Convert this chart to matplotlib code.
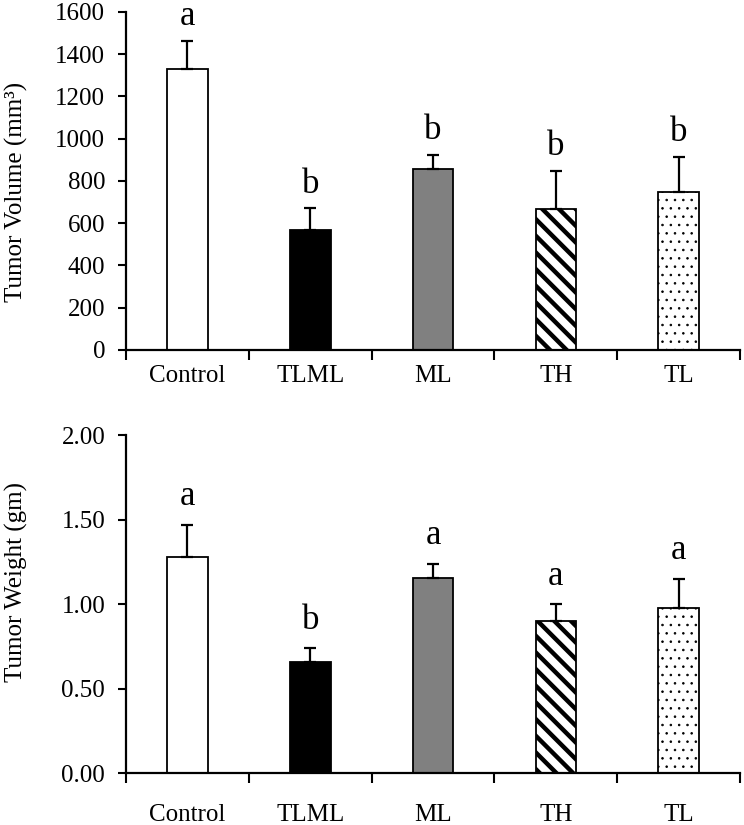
import matplotlib
matplotlib.use("Agg")
import matplotlib.pyplot as plt
import numpy as np

categories = ["Control", "TLML", "ML", "TH", "TL"]

volume_mean = [1329, 568, 855, 666, 746]
volume_err = [135, 103, 70, 183, 169]
volume_letters = ["a", "b", "b", "b", "b"]

weight_mean = [1.28, 0.66, 1.155, 0.90, 0.98]
weight_err = [0.19, 0.08, 0.085, 0.10, 0.17]
weight_letters = ["a", "b", "a", "a", "a"]

volume_ticks = [0, 200, 400, 600, 800, 1000, 1200, 1400, 1600]
weight_ticks = [0.0, 0.5, 1.0, 1.5, 2.0]

fills = ["white", "black", "#808080", "white", "white"]
hatches = [None, None, None, "\\\\", ".."]
hatch_lw = [1.0, 1.0, 1.0, 3.2, 0.6]

plt.rcParams["font.family"] = ["Liberation Serif", "DejaVu Serif"]
plt.rcParams["hatch.color"] = "black"

FS = 18

fig = plt.figure(figsize=(7.44, 8.25), dpi=100)
ax1 = fig.add_axes([0.1694, 0.5758, 0.8253, 0.4097])
ax2 = fig.add_axes([0.1694, 0.0627, 0.8253, 0.4097])


def draw(ax, means, errs, letters, yticks, ylabel, fmt, label_pad, letter_off, ylab_y):
    x = np.arange(len(categories)) + 0.5
    for i in range(len(categories)):
        plt.rcParams["hatch.linewidth"] = hatch_lw[i]
        b = ax.bar(x[i], means[i], width=0.33, color=fills[i], edgecolor="black",
                   linewidth=1.3, hatch=hatches[i], zorder=2)
        for p in b:
            if hasattr(p, "set_hatch_linewidth"):
                p.set_hatch_linewidth(hatch_lw[i])
    ax.errorbar(x, means, yerr=[np.zeros(len(errs)), errs], fmt="none",
                ecolor="black", elinewidth=1.6, capsize=4, capthick=1.6, zorder=3)
    for i in range(len(categories)):
        ax.annotate(letters[i], (x[i], means[i] + errs[i]), xytext=(0, letter_off),
                    textcoords="offset points", ha="center", va="baseline",
                    fontsize=25, annotation_clip=False)
    ax.set_xlim(0, len(categories))
    ax.set_ylim(yticks[0], yticks[-1])
    ax.set_yticks(yticks)
    ax.set_yticklabels([fmt(v) for v in yticks], fontsize=FS)
    ax.set_xticks(np.arange(len(categories) + 1))
    ax.set_xticklabels([])
    ax.set_xticks(x, minor=True)
    ax.set_xticklabels(categories, minor=True, fontsize=FS)
    ax.tick_params(axis="x", which="major", direction="out", length=7, width=1.5)
    ax.tick_params(axis="x", which="minor", length=0, pad=label_pad)
    ax.tick_params(axis="y", direction="out", length=6, width=1.5, pad=9)
    for s in ["top", "right"]:
        ax.spines[s].set_visible(False)
    for s in ["left", "bottom"]:
        ax.spines[s].set_linewidth(1.6)
    ax.set_ylabel(ylabel, fontsize=FS)
    ax.yaxis.set_label_coords(-0.16, ylab_y)
    ax.patch.set_visible(False)


draw(ax1, volume_mean, volume_err, volume_letters, volume_ticks,
     "Tumor Volume (mm³)", lambda v: f"{v:d}", 11, 11, 0.467)
draw(ax2, weight_mean, weight_err, weight_letters, weight_ticks,
     "Tumor Weight (gm)", lambda v: f"{v:.2f}", 22, 14, 0.566)

fig.savefig("out.png", dpi=100)
